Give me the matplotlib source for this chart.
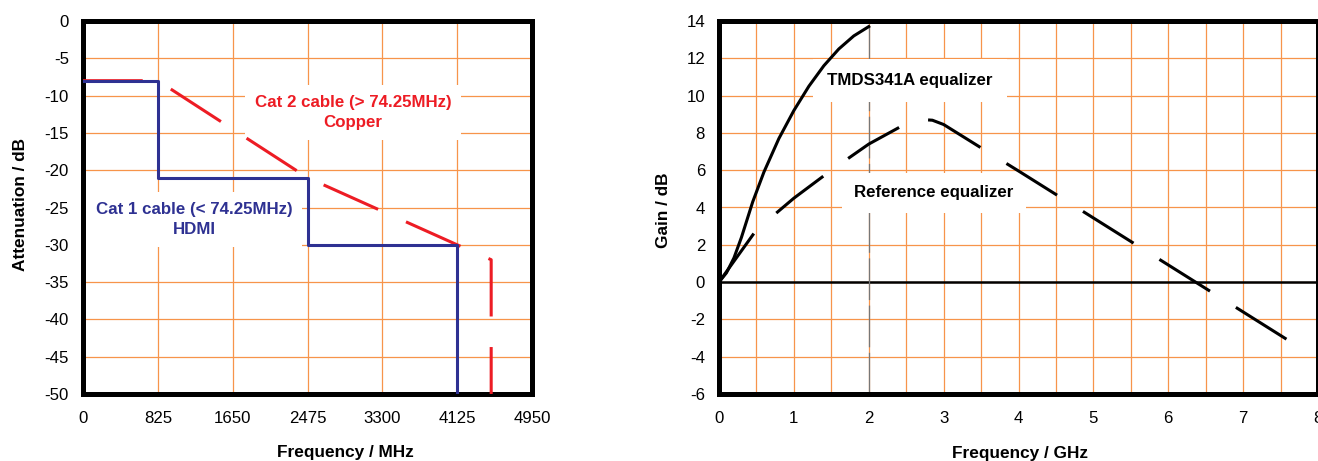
import matplotlib
matplotlib.use("Agg")
import matplotlib.pyplot as plt
from matplotlib import font_manager

# ---------------------------------------------------------------
# data
# ---------------------------------------------------------------

# left panel: attenuation vs frequency (MHz)
cat1_freq = [0, 825, 825, 2475, 2475, 4125, 4125]
cat1_att = [-8, -8, -21, -21, -30, -30, -50]

cat2_freq = [0, 825, 2475, 4125, 4500, 4500]
cat2_att = [-8, -8, -21, -30, -32, -50]

mhz_ticks = [0, 825, 1650, 2475, 3300, 4125, 4950]
att_ticks = [0, -5, -10, -15, -20, -25, -30, -35, -40, -45, -50]

# right panel: gain vs frequency (GHz)
tmds_freq = [0, 0.1, 0.2, 0.3, 0.45, 0.6, 0.8, 1.0, 1.2, 1.4, 1.6, 1.8, 2.0]
tmds_gain = [0, 0.5, 1.3, 2.4, 4.3, 5.9, 7.7, 9.2, 10.5, 11.6, 12.5, 13.2, 13.7]

ref_freq = [0, 0.5, 1.0, 1.5, 2.0, 2.5, 2.7, 2.85, 3.0, 3.5, 4.0, 4.5, 5.0,
            5.5, 6.0, 6.5, 7.0, 7.65]
ref_gain = [0, 2.8, 4.5, 6.0, 7.4, 8.5, 8.72, 8.68, 8.45, 7.2, 5.96, 4.7,
            3.44, 2.18, 0.92, -0.34, -1.6, -3.24]

ghz_ticks = [0, 1, 2, 3, 4, 5, 6, 7, 8]
gain_ticks = [14, 12, 10, 8, 6, 4, 2, 0, -2, -4, -6]

# ---------------------------------------------------------------
# style
# ---------------------------------------------------------------
names = {f.name for f in font_manager.fontManager.ttflist}
if 'Liberation Sans Narrow' in names:
    fam, k = 'Liberation Sans Narrow', 1.0
else:
    fam, k = 'Liberation Sans', 0.83   # regular width font -> smaller size
plt.rcParams['font.family'] = [fam, 'DejaVu Sans']
plt.rcParams['lines.scale_dashes'] = False
plt.rcParams['axes.unicode_minus'] = False

TICK_FS = 14.5 * k
LABEL_FS = 15 * k
NOTE_FS = 14.7 * k

RED = '#ED1C24'
BLUE = '#2E3192'
GRID = '#F7944A'
DASH = (43, 22)   # points, long dash / gap

fig = plt.figure(figsize=(13.18, 4.61), dpi=100)
ax1 = fig.add_axes([83 / 1318, 1 - 394 / 461, 449 / 1318, 373 / 461])
ax2 = fig.add_axes([719 / 1318, 1 - 394 / 461, 599 / 1318, 373 / 461])


def frame(ax, xlim, ylim, xt, yt, xgrid, ygrid):
    ax.set_xlim(*xlim)
    ax.set_ylim(*ylim)
    ax.set_xticks(xt)
    ax.set_yticks(yt)
    ax.set_xticks(xgrid, minor=True)
    ax.set_yticks(ygrid, minor=True)
    ax.tick_params(which='both', length=0, pad=10, labelsize=TICK_FS)
    ax.tick_params(axis='x', pad=12)
    ax.grid(True, which='both', color=GRID, lw=0.9)
    ax.set_axisbelow(True)
    for s in ax.spines.values():
        s.set_linewidth(3.6)
        s.set_color('black')


frame(ax1, (0, 4950), (-50, 0), mhz_ticks, att_ticks,
      mhz_ticks, att_ticks)

frame(ax2, (0, 8), (-6, 14), ghz_ticks, gain_ticks,
      [i * 0.5 for i in range(17)], gain_ticks)

# ---------------------------------------------------------------
# left panel
# ---------------------------------------------------------------
ax1.plot(cat2_freq, cat2_att, color=RED, lw=2.2, dashes=DASH, zorder=3)
ax1.plot(cat1_freq, cat1_att, color=BLUE, lw=2.2, zorder=4)

box = dict(facecolor='white', edgecolor='none', pad=7)
ax1.text(2975, -12.3, 'Cat 2 cable (> 74.25MHz)\nCopper', color=RED,
         fontsize=NOTE_FS, fontweight='bold', ha='center', va='center',
         linespacing=1.45, bbox=box, zorder=2)
ax1.text(1225, -26.6, 'Cat 1 cable (< 74.25MHz)\nHDMI', color=BLUE,
         fontsize=NOTE_FS, fontweight='bold', ha='center', va='center',
         linespacing=1.45, bbox=box, zorder=2)

# ---------------------------------------------------------------
# right panel
# ---------------------------------------------------------------
ax2.axhline(0, color='black', lw=1.8, zorder=2)
ax2.plot([2, 2], [-6, 13.7], color='#777777', lw=0.9, dashes=(30, 4), zorder=2)

ax2.text(2.55, 10.8, 'TMDS341A equalizer', fontsize=NOTE_FS, fontweight='bold',
         ha='center', va='center', bbox=dict(facecolor='white', edgecolor='none', pad=10),
         zorder=2.5)
ax2.text(2.87, 4.8, 'Reference equalizer', fontsize=NOTE_FS, fontweight='bold',
         ha='center', va='center', bbox=dict(facecolor='white', edgecolor='none', pad=9),
         zorder=2.5)

ax2.plot(tmds_freq, tmds_gain, color='black', lw=2.2, zorder=4)
ax2.plot(ref_freq, ref_gain, color='black', lw=2.2, dashes=DASH, zorder=4)

# axis titles placed like in the original
fig.text(21 / 1318, 1 - 204 / 461, 'Attenuation / dB', rotation=90,
         ha='center', va='center', fontsize=LABEL_FS, fontweight='bold')
fig.text(345 / 1318, 1 - 452 / 461, 'Frequency / MHz',
         ha='center', va='center', fontsize=LABEL_FS, fontweight='bold')
fig.text(663 / 1318, 1 - 210 / 461, 'Gain / dB', rotation=90,
         ha='center', va='center', fontsize=LABEL_FS, fontweight='bold')
fig.text(1020 / 1318, 1 - 453 / 461, 'Frequency / GHz',
         ha='center', va='center', fontsize=LABEL_FS, fontweight='bold')

fig.savefig('out.png', dpi=100, facecolor='white')
